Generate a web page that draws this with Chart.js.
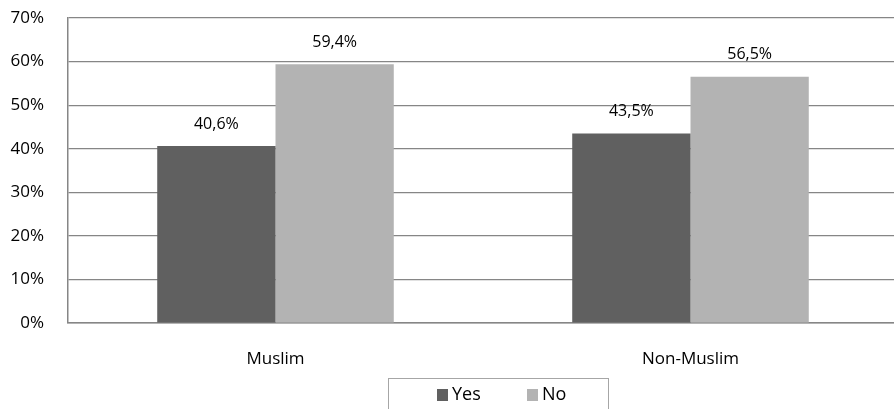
<!DOCTYPE html>
<html>
<head>
<meta charset="utf-8">
<script src="https://cdn.jsdelivr.net/npm/chart.js@4/dist/chart.umd.min.js"></script>
<style>
html,body{margin:0;padding:0;background:#fff;overflow:hidden;}
#wrap{position:relative;width:898px;height:409px;}
</style>
</head>
<body>
<div id="wrap"><canvas id="c" width="898" height="409"></canvas></div>
<script>
const categories = ["Muslim", "Non-Muslim"];
const seriesNames = ["Yes", "No"];
const yesValues = [40.6, 43.5];
const noValues = [59.4, 56.5];
const yTicks = [0, 10, 20, 30, 40, 50, 60, 70];

const FONT = "'Open Sans', sans-serif";

const valueLabels = {
  id: 'valueLabels',
  afterDatasetsDraw(chart) {
    const ctx = chart.ctx;
    ctx.save();
    ctx.font = "16px " + FONT;
    ctx.fillStyle = "#000";
    ctx.textAlign = "center";
    ctx.textBaseline = "middle";
    chart.data.datasets.forEach((ds, i) => {
      chart.getDatasetMeta(i).data.forEach((bar, j) => {
        const txt = ds.data[j].toFixed(1).replace('.', ',') + '%';
        ctx.fillText(txt, bar.x, bar.y - 22);
      });
    });
    ctx.restore();
  }
};

const boxLegend = {
  id: 'boxLegend',
  afterDraw(chart) {
    const ctx = chart.ctx;
    ctx.save();
    ctx.strokeStyle = "#a6a6a6";
    ctx.lineWidth = 1;
    ctx.strokeRect(388.5, 378.5, 220, 40);
    ctx.font = "18px " + FONT;
    ctx.textBaseline = "middle";
    ctx.textAlign = "left";
    const xs = [437, 527];
    chart.data.datasets.forEach((ds, i) => {
      ctx.fillStyle = ds.backgroundColor;
      ctx.fillRect(xs[i], 389, 11, 12);
      ctx.fillStyle = "#000";
      ctx.fillText(ds.label, xs[i] + 15, 395);
    });
    ctx.restore();
  }
};

new Chart(document.getElementById('c'), {
  type: 'bar',
  data: {
    labels: categories,
    datasets: [
      { label: seriesNames[0], data: yesValues, backgroundColor: "#606060" },
      { label: seriesNames[1], data: noValues, backgroundColor: "#b3b3b3" }
    ]
  },
  options: {
    responsive: false,
    animation: false,
    devicePixelRatio: 1,
    layout: { padding: { top: 18, left: 0, right: 0, bottom: 0 } },
    datasets: { bar: { categoryPercentage: 0.57, barPercentage: 1.0 } },
    plugins: { legend: { display: false }, tooltip: { enabled: false } },
    scales: {
      x: {
        grid: { display: false, drawTicks: false },
        border: { display: true, color: "#868686", width: 1.5 },
        ticks: { font: { family: FONT, size: 17 }, color: "#000", padding: 26 },
        afterFit(s) { s.height = 86; s.paddingLeft = 0; s.paddingRight = 0; }
      },
      y: {
        min: 0, max: 70,
        afterBuildTicks(s) { s.ticks = yTicks.map(v => ({ value: v })); },
        grid: { color: "#868686", lineWidth: 1.2, drawTicks: false },
        border: { display: true, color: "#868686", width: 1.5 },
        ticks: { font: { family: FONT, size: 17 }, color: "#000", padding: 24,
                 callback: v => v + '%' },
        afterFit(s) { s.width = 68; s.paddingTop = 0; s.paddingBottom = 0; }
      }
    }
  },
  plugins: [valueLabels, boxLegend]
});
</script>
</body>
</html>
